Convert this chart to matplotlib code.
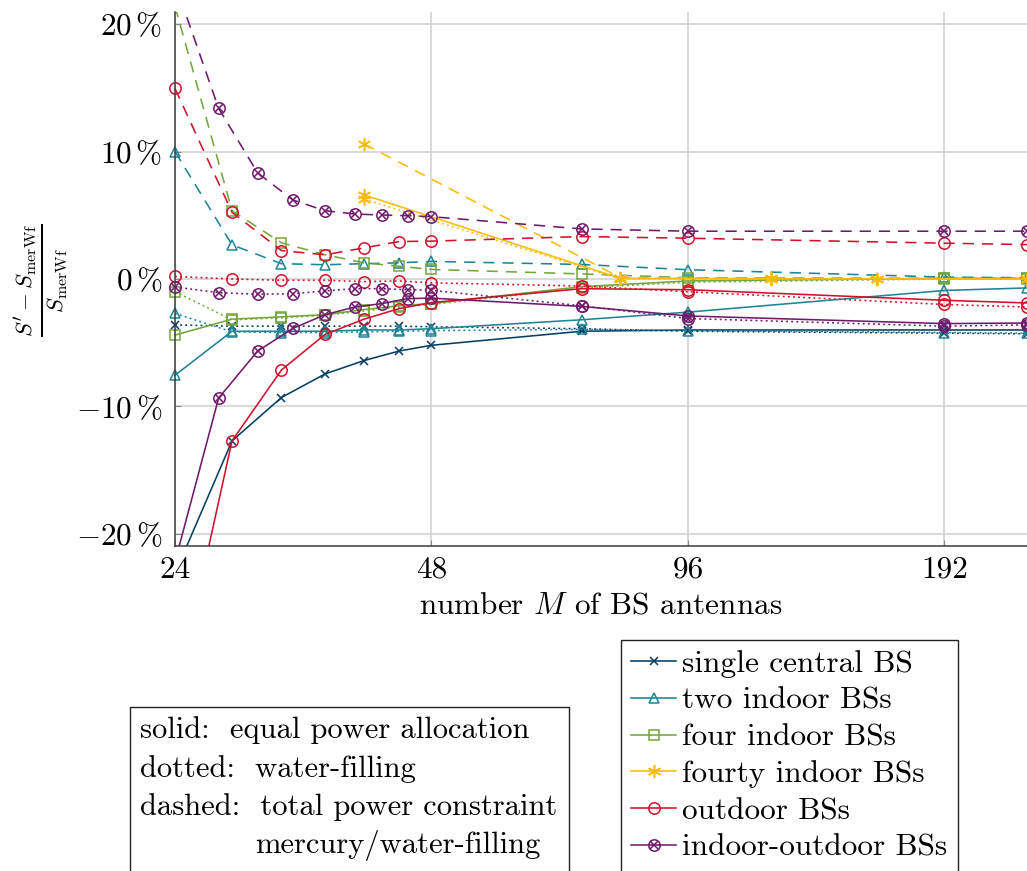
import matplotlib
matplotlib.use("Agg")
import matplotlib.pyplot as plt
from matplotlib.lines import Line2D
from matplotlib.legend_handler import HandlerTuple
from matplotlib.patches import Rectangle
from matplotlib.transforms import Bbox, TransformedBbox

plt.rcParams["font.family"] = "cmr10"
plt.rcParams["mathtext.fontset"] = "cm"
plt.rcParams["axes.formatter.use_mathtext"] = True

# ---- data (relative deviation in %) ----
M_std = [24, 28, 32, 36, 40, 44, 48, 72, 96, 192, 240]
M_io = [24, 27, 30, 33, 36, 39, 42, 45, 48, 72, 96, 192, 240]
M_forty = [40, 80, 120, 160, 240]

single_solid = [-23.1, -12.7, -9.3, -7.45, -6.4, -5.65, -5.2, -4.1, -4.0, -4.0, -4.0]
single_dotted = [-3.6, -3.7, -3.7, -3.7, -3.7, -3.7, -3.75, -3.9, -4.1, -4.25, -4.3]

two_solid = [-7.55, -4.1, -4.1, -4.1, -4.0, -4.0, -3.9, -3.2, -2.6, -0.9, -0.7]
two_dotted = [-2.7, -4.15, -4.2, -4.2, -4.15, -4.1, -4.05, -3.95, -4.05, -4.2, -4.25]
two_dashed = [10.0, 2.68, 1.2, 1.12, 1.2, 1.27, 1.38, 1.14, 0.73, 0.15, 0.1]

four_solid = [-4.4, -3.15, -2.97, -2.8, -2.4, -2.1, -1.93, -0.6, -0.15, 0.05, 0.05]
four_dotted = [-1.0, -3.2, -3.05, -2.85, -2.5, -2.2, -2.0, -0.7, -0.25, 0.0, 0.0]
four_dashed = [21.4, 5.36, 2.84, 1.9, 1.27, 1.0, 0.75, 0.4, 0.1, 0.05, 0.05]

forty_solid = [6.6, 0.05, 0.02, 0.02, 0.0]
forty_dotted = [6.27, 0.0, 0.0, 0.0, 0.0]
forty_dashed = [10.6, 0.1, 0.05, 0.03, 0.0]

out_solid = [-33.0, -12.7, -7.14, -4.35, -3.15, -2.32, -1.85, -0.76, -0.84, -1.67, -1.88]
out_dotted = [0.2, 0.0, -0.1, -0.1, -0.2, -0.15, -0.3, -0.55, -1.0, -2.0, -2.2]
out_dashed = [14.95, 5.23, 2.23, 1.9, 2.44, 2.94, 2.97, 3.33, 3.2, 2.81, 2.7]

io_solid = [-22.2, -9.35, -5.66, -3.88, -2.8, -2.2, -1.93, -1.54, -1.5, -2.15, -2.9, -3.5, -3.45]
io_dotted = [-0.63, -1.07, -1.2, -1.15, -0.94, -0.76, -0.76, -0.84, -0.89, -2.1, -3.1, -3.7, -3.6]
io_dashed = [23.2, 13.4, 8.33, 6.2, 5.36, 5.1, 5.02, 4.97, 4.89, 3.93, 3.75, 3.75, 3.75]

series_names = ["single central BS", "two indoor BSs", "four indoor BSs",
                "fourty indoor BSs", "outdoor BSs", "indoor-outdoor BSs"]
series_colors = ["#073f63", "#1d8596", "#74a73a", "#f9bb0e", "#d2112c", "#701a6c"]

x_ticks = [24, 48, 96, 192]
x_tick_labels = ["24", "48", "96", "192"]
y_ticks = [-20, -10, 0, 10, 20]
y_tick_labels = [r"$-20\,\%$", r"$-10\,\%$", r"$0\,\%$", r"$10\,\%$", r"$20\,\%$"]

legend_notes = ["solid:  equal power allocation", "dotted:  water-filling",
                "dashed:  total power constraint", "mercury/water-filling"]

# ---- styles ----
LW = 1.15
MEW = 1.1
FS = 22.5
FS_NOTES = 22
DOTTED = (0, (1.2, 2.0))
DASHED = (0, (7.0, 5.0))
MARKERS = {
    "single central BS": dict(marker="x", ms=6.0),
    "two indoor BSs": dict(marker="^", ms=7.8),
    "four indoor BSs": dict(marker="s", ms=7.6),
    "fourty indoor BSs": dict(marker=(6, 2, 0), ms=9.5),
    "outdoor BSs": dict(marker="o", ms=8.2),
    "indoor-outdoor BSs": dict(marker="o", ms=8.2),
}

W, H = 1027, 871
fig = plt.figure(figsize=(W / 100, H / 100), dpi=100)
ax = fig.add_axes([175 / W, 1 - 546 / H, (1027 - 175) / W, (546 - 12) / H])
ax.set_xscale("log", base=2)
ax.set_xlim(24, 240)
ax.set_ylim(-20.95, 20.95)

clip_bbox = TransformedBbox(Bbox([[-0.03, 0.0], [1.03, 1.0]]), ax.transAxes)


def draw(x, y, name, color, ls):
    m = MARKERS[name]
    lines = ax.plot(x, y, color=color, lw=LW, ls=ls, marker=m["marker"], ms=m["ms"],
                    mfc="none", mec=color, mew=MEW)
    if name == "indoor-outdoor BSs":
        lines += ax.plot(x, y, ls="none", marker="x", ms=5.6, color=color, mew=MEW)
    for ln in lines:
        ln.set_clip_box(clip_bbox)


table = [
    ("single central BS", M_std, [single_solid, single_dotted, None]),
    ("two indoor BSs", M_std, [two_solid, two_dotted, two_dashed]),
    ("four indoor BSs", M_std, [four_solid, four_dotted, four_dashed]),
    ("fourty indoor BSs", M_forty, [forty_solid, forty_dotted, forty_dashed]),
    ("outdoor BSs", M_std, [out_solid, out_dotted, out_dashed]),
    ("indoor-outdoor BSs", M_io, [io_solid, io_dotted, io_dashed]),
]
for (name, xs, ys), color in zip(table, series_colors):
    for y, ls in zip(ys, ["-", DOTTED, DASHED]):
        if y is not None:
            draw(xs, y, name, color, ls)

# ---- axes styling ----
ax.set_xticks(x_ticks)
ax.set_xticklabels(x_tick_labels)
ax.xaxis.set_minor_locator(matplotlib.ticker.NullLocator())
ax.set_yticks(y_ticks)
ax.set_yticklabels(y_tick_labels)
ax.grid(True, color="#cfcfcf", lw=1.1)
ax.set_axisbelow(True)
for s in ["top", "right"]:
    ax.spines[s].set_visible(False)
for s in ["left", "bottom"]:
    ax.spines[s].set_color("#3c3c3c")
    ax.spines[s].set_linewidth(1.1)
ax.tick_params(axis="both", direction="in", length=4, width=0.8, color="#888888",
               labelsize=FS)
ax.tick_params(axis="y", pad=9)
ax.tick_params(axis="x", pad=7)

ax.set_xlabel(r"number $M$ of BS antennas", fontsize=FS, labelpad=6)
ax.set_ylabel(r"$\frac{S'-S_{\mathrm{merWf}}}{S_{\mathrm{merWf}}}$", fontsize=FS + 1,
              ha="center", va="center")
ax.yaxis.set_label_coords((41 - 175) / 852, (546 - 280) / 534)

# ---- series legend ----
handles = []
for name, color in zip(series_names, series_colors):
    m = MARKERS[name]
    h = Line2D([], [], color=color, lw=LW, marker=m["marker"], ms=m["ms"],
               mfc="none", mec=color, mew=MEW)
    if name == "indoor-outdoor BSs":
        h = (h, Line2D([], [], ls="none", marker="x", ms=5.6, color=color, mew=MEW))
    handles.append(h)
leg = fig.legend(handles, series_names, loc="upper left",
                 bbox_to_anchor=(621 / W, 1 - 640 / H), frameon=True, fancybox=False,
                 edgecolor="#222222", framealpha=1, fontsize=FS, handlelength=1.42,
                 handletextpad=0.2, labelspacing=0.28, borderpad=0.33, borderaxespad=0,
                 handler_map={tuple: HandlerTuple(ndivide=1, pad=0)})
leg.get_frame().set_linewidth(1.0)

# ---- line style notes ----
fig.patches.append(Rectangle((130 / W, -0.02), (569 - 130) / W, (871 - 707) / H + 0.02,
                             transform=fig.transFigure, facecolor="white",
                             edgecolor="#222222", lw=1.0))
note_x = [140, 140, 140, 255]
note_y = [738, 777, 815, 853]
for txt, xx, yy in zip(legend_notes, note_x, note_y):
    fig.text(xx / W, 1 - yy / H, txt, fontsize=FS_NOTES, ha="left", va="baseline")

fig.savefig("out.png", dpi=100)
